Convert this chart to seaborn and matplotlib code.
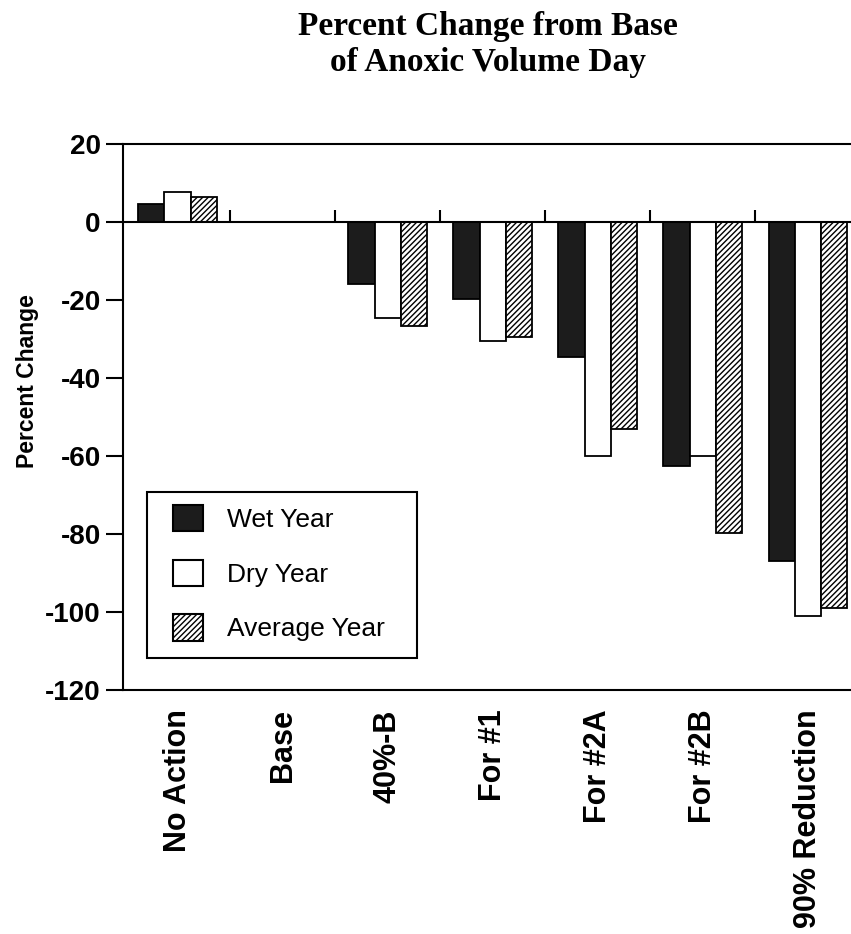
import matplotlib
matplotlib.use("Agg")
import matplotlib.pyplot as plt
import seaborn as sns
import pandas as pd
from matplotlib.patches import Patch, Rectangle

categories = ["No Action", "Base", "40%-B", "For #1", "For #2A", "For #2B", "90% Reduction"]
wet_year = [4.6, 0, -16, -19.7, -34.6, -62.6, -86.8]
dry_year = [7.7, 0, -24.6, -30.5, -60, -60, -101]
avg_year = [6.4, 0, -26.7, -29.5, -53, -79.7, -99]
series_names = ["Wet Year", "Dry Year", "Average Year"]
y_ticks = [20, 0, -20, -40, -60, -80, -100, -120]

df = pd.DataFrame({
    "Category": categories * 3,
    "Series": [s for s in series_names for _ in categories],
    "Value": wet_year + dry_year + avg_year,
})

sns.set_theme(style="white")
plt.rcParams["axes.unicode_minus"] = False
plt.rcParams["hatch.linewidth"] = 1.0
plt.rcParams["font.family"] = ["Liberation Sans", "DejaVu Sans"]
for k in ["text.color", "axes.labelcolor", "xtick.color", "ytick.color"]:
    plt.rcParams[k] = "black"

fig = plt.figure(figsize=(8.51, 9.34), dpi=100)
ax = fig.add_axes([0.1445, 0.2612, 0.8555, 0.5846])

face = {"Wet Year": "#1c1c1c", "Dry Year": "white", "Average Year": "white"}
sns.barplot(data=df, x="Category", y="Value", hue="Series", order=categories,
            hue_order=series_names, palette=face, width=0.75, gap=0,
            edgecolor="black", linewidth=1.3, saturation=1, ax=ax, legend=False)

for bar in ax.containers[2]:
    bar.set_hatch("//////")

ax.set_xlim(-0.52, 6.41)
ax.set_ylim(-120, 20)
ax.set_yticks(y_ticks)
ax.set_yticklabels([str(t) for t in y_ticks], fontsize=20, fontweight="bold")
ax.tick_params(axis="y", direction="out", length=12, width=1.5, pad=4, left=True)
ax.tick_params(axis="x", length=0, pad=14)
ax.set_xticks(range(len(categories)))
ax.set_xticklabels(categories, rotation=90, fontsize=22, fontweight="bold", va="top")
ax.set_xlabel("")
ax.set_ylabel("Percent Change", fontsize=16.5, fontweight="bold")
ax.yaxis.set_label_coords(-0.116, 0.566)

for s in ["left", "top", "bottom"]:
    ax.spines[s].set_visible(True)
    ax.spines[s].set_linewidth(1.5)
    ax.spines[s].set_color("black")
ax.spines["right"].set_visible(False)

ax.axhline(0, color="black", lw=1.5, zorder=5)
ax.vlines([i + 0.5 for i in range(len(categories) - 1)], 0, 3, color="black", lw=1.5, zorder=5)

# legend frame
ax.add_patch(Rectangle((0.033, 0.0586), 0.371, 0.304, transform=ax.transAxes,
                       facecolor="white", edgecolor="black", lw=1.5, zorder=6))
handles = [Patch(facecolor=face[s], edgecolor="black", linewidth=1.5,
                 hatch=("//////" if s == "Average Year" else None),
                 label=s) for s in series_names]
leg = ax.legend(handles=handles, loc="upper left", bbox_to_anchor=(0.0687, 0.339),
                fontsize=19, frameon=False,
                handlelength=1.15, handleheight=1.15, labelspacing=1.05,
                borderpad=0, handletextpad=0.9, borderaxespad=0)
leg.set_zorder(7)

fig.text(0.573, 0.988, "Percent Change from Base\nof Anoxic Volume Day", ha="center", va="top",
         fontsize=24, fontweight="bold", family=["Liberation Serif", "DejaVu Serif"],
         linespacing=1.22)

fig.savefig("out.png", dpi=100)
